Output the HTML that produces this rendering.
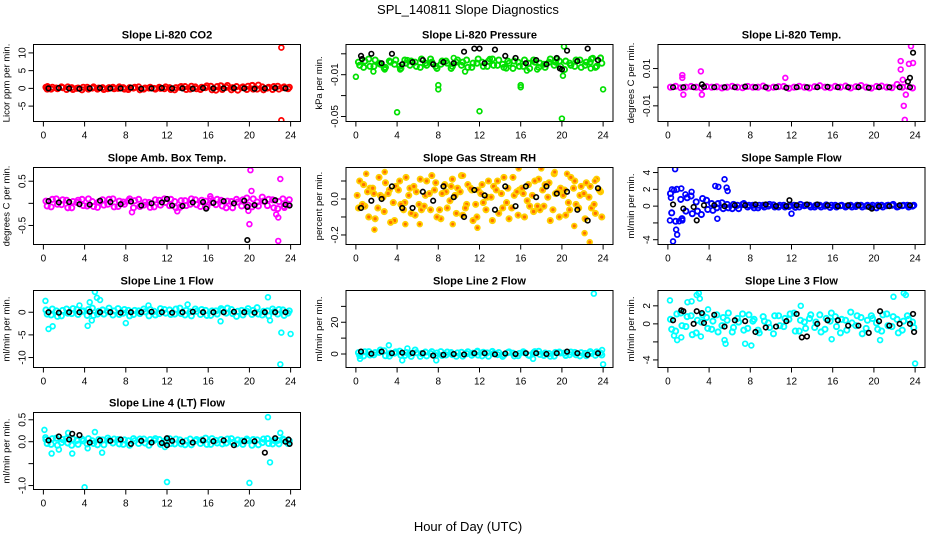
<!DOCTYPE html>
<html><head><meta charset="utf-8"><style>
body{margin:0;background:#fff;}
svg{display:block;font-family:"Liberation Sans",Arial,sans-serif;}
</style></head><body>
<svg id="chart" width="936" height="540" viewBox="0 0 936 540">
<rect width="936" height="540" fill="#fff"/>
<text x="468" y="14" text-anchor="middle" font-size="13">SPL_140811  Slope Diagnostics</text>
<text x="468" y="531" text-anchor="middle" font-size="13">Hour of Day (UTC)</text>
</svg>
<script>
const hoursC=[0.25,0.75,1.25,1.75,2.25,2.75,3.25,3.75,4.25,4.75,5.25,5.75,6.25,6.75,7.25,7.75,8.25,8.75,9.25,9.75,10.25,10.75,11.25,11.75,12.25,12.75,13.25,13.75,14.25,14.75,15.25,15.75,16.25,16.75,17.25,17.75,18.25,18.75,19.25,19.75,20.25,20.75,21.25,21.75,22.25,22.75,23.25,23.75];
const hoursB=[0.5,1.5,2.5,3.5,4.5,5.5,6.5,7.5,8.5,9.5,10.5,11.5,12.5,13.5,14.5,15.5,16.5,17.5,18.5,19.5,20.5,21.5,22.5,23.5];
const xTicks=[0,4,8,12,16,20,24];
const xTickLabels=["0","4","8","12","16","20","24"];

const co2C=[0.3,-0.2,0.1,0.4,-0.3,0.2,0,-0.4,0.3,0.1,-0.2,0.2,-0.1,0.3,0,0.2,-0.3,0.1,0.4,-0.2,0.1,0,0.3,-0.1,0.2,-0.4,0.3,0.5,-0.2,0.4,-0.3,0.2,0.6,-0.5,0.7,0.3,-0.4,0.5,0.2,-0.3,0.8,-0.2,0.4,0.1,-0.3,0.6,0.2,-0.1];
const co2C2=[-0.2,0.3,-0.1,0.2,0.4,-0.3,0.1,0.3,-0.2,0.4,0.1,-0.3,0.2,-0.1,0.4,-0.2,0.2,0.3,-0.4,0.1,0.3,-0.2,0,0.4,-0.3,0.2,0.5,-0.3,0.6,-0.1,0.3,0.7,-0.4,0.5,-0.3,0.8,0.2,-0.5,0.4,0.6,-0.2,0.9,-0.4,0.3,0.5,-0.2,0.4,0.3];
const co2B=[0,0.1,0,-0.1,0,0.1,0,0,0.2,-0.1,0,0.1,0,0,-0.1,0.1,0,0,0.1,0,-0.1,0,0.1,0];
const co2OX=[23.1,23.1,0.4,17.2,20.3];
const co2OY=[11.5,-9,0.6,0.8,0.9];
const co2Ticks=[-5,0,5,10];
const co2Labels=["-5","0","5","10"];

const presC=[0.002,-0.003,0.005,-0.002,0.001,-0.004,0.003,0,-0.002,0.004,-0.001,0.002,-0.003,0.001,0.005,-0.002,0,0.003,-0.004,0.002,-0.001,0.004,-0.003,0.001,0.002,-0.002,0.005,-0.001,0,0.003,-0.004,0.002,-0.002,0.001,0.004,-0.003,0,0.002,-0.001,0.003,-0.005,0.001,-0.002,0.004,-0.001,0.002,-0.003,0.006];
const presC2=[-0.001,0.003,-0.002,0.004,0,-0.003,0.002,0.004,-0.004,0.001,0.003,-0.002,0.005,-0.001,0.002,-0.004,0.003,0.001,-0.002,0.004,0.002,-0.003,0.001,0.005,-0.002,0.003,-0.001,0.004,-0.003,0.001,0.003,-0.002,0.004,-0.004,0.002,0.001,-0.003,0.005,0.002,-0.002,0.003,-0.001,0.004,-0.003,0.002,0.005,-0.002,0.001];
const presB=[0.008,0.01,0.001,0.01,0,0.002,0.004,0,0.002,0.001,0.012,0.015,0.001,0.014,0.008,0.006,0.001,0.004,0,0.006,0.013,0.003,0.015,0.004];
const presOX=[0,1.7,2.8,4,4.3,8,8,10.6,12,14.6,16,16,16.6,17.6,20,20.1,20.2,22.8,23,24,5,9.5,13,19.5];
const presOY=[-0.012,-0.007,-0.005,-0.046,-0.005,-0.02,-0.024,-0.007,-0.045,-0.004,-0.022,-0.02,-0.006,-0.005,-0.052,-0.011,0.017,-0.004,0.006,-0.024,0.004,0.006,0.005,0.005];
const presBOX=[12,0.6,19.8,20];
const presBOY=[0.015,0.005,-0.004,-0.005];
const presTicks=[-0.05,-0.03,-0.01,0.01];
const presLabels=["-0.05","","-0.01",""];

const tempC=[0,0.0005,-0.0003,0,0.0004,0,-0.0005,0.0003,0,0.0002,-0.0004,0,0.0005,0,-0.0003,0.0004,0,0,0.0006,-0.0005,0,0.0003,0.0004,-0.0006,0,0.0005,0,-0.0004,0.0003,0.0008,0,-0.0003,0.0005,0,0.0006,-0.0004,0.0003,0.0009,0,-0.0005,0.0004,0.0006,0,-0.0003,0.0015,0,0.0005,-0.0004];
const tempB=[0,0,0,0.0002,0,0,0,0.0003,0,0,0,-0.0003,0,0,0,0.0002,0,0,0,-0.0003,0,0,0,0];
const tempOX=[1.4,1.4,1.5,3.2,3.3,11.4,22.6,22.6,22.8,22.9,23,23.1,23.4,23.6,23.8];
const tempOY=[0.0065,0.005,-0.004,0.0085,-0.004,0.005,0.014,0.0095,0.004,-0.01,-0.0175,-0.004,0.0125,0.022,0.013];
const tempBOX=[23.8,23.5,23.3,3.3];
const tempBOY=[0.0185,0.005,0.003,0.0015];
const tempTicks=[-0.01,0,0.01];
const tempLabels=["-0.01","","0.01"];

const ambC=[0.05,-0.08,0.1,-0.03,0.07,-0.1,0.02,0.09,-0.06,0.04,-0.09,0.08,-0.02,0.1,-0.07,0.03,0.06,-0.1,0.09,-0.04,0.02,-0.08,0.07,0.1,-0.05,0.04,-0.09,0.06,-0.02,0.08,-0.07,0.05,0.1,-0.03,0.07,-0.1,0.04,0.09,-0.06,0.12,-0.08,0.03,0.14,-0.05,0.08,-0.12,0.1,-0.02];
const ambC2=[-0.06,0.09,-0.02,0.08,-0.1,0.04,0.07,-0.05,0.1,-0.07,0.03,-0.04,0.09,-0.08,0.05,-0.02,0.1,0.06,-0.07,0.03,-0.09,0.08,-0.04,0.02,0.09,-0.1,0.06,-0.05,0.1,-0.03,0.07,-0.08,0.02,0.09,-0.06,0.05,-0.1,0.03,0.08,-0.04,0.1,-0.06,0.05,0.09,-0.1,0.04,-0.07,0.08];
const ambB=[0.05,0.02,0.03,-0.02,-0.03,0.06,0.03,-0.02,0.04,-0.05,0,0.02,-0.05,-0.06,0.02,0.03,0.01,0.05,0,0.06,-0.04,0.04,0.07,-0.03];
const ambOX=[20.1,23,20,20.2,22.8,22.8,8.6,13,19.9,16.2,22.6,23.4];
const ambOY=[0.75,0.55,-0.47,0.28,-0.32,-0.85,-0.2,-0.18,-0.17,0.16,-0.25,-0.1];
const ambBOX=[19.8,15.8,19.8,12,23.9];
const ambBOY=[-0.83,-0.12,-0.08,0.1,-0.05];
const ambTicks=[-0.5,0,0.5];
const ambLabels=["-0.5","","0.5"];

const rhC=[-0.05,0.08,-0.1,0.03,0.12,-0.07,0.05,-0.12,0.1,-0.02,0.06,-0.09,0.11,0.02,-0.06,0.09,-0.11,0.04,0.07,-0.08,0.13,-0.03,0.05,-0.1,0.08,0.01,-0.12,0.1,-0.05,0.06,0.12,-0.09,0.03,0.08,-0.07,0.11,-0.04,0.09,0.14,-0.1,0.05,-0.06,0.1,0.02,-0.11,0.07,-0.08,0.04];
const rhC2=[0.1,-0.04,0.06,-0.11,0.02,0.09,-0.13,0.07,-0.03,0.12,-0.08,0.04,-0.06,0.1,0.13,-0.1,0.03,-0.05,0.11,0.06,-0.09,0.08,-0.12,0.05,-0.02,0.1,0.07,-0.08,0.12,-0.11,0.02,0.05,-0.1,-0.04,0.1,-0.06,0.08,-0.12,0.03,0.06,-0.09,0.12,-0.03,0.07,0.09,-0.05,0.11,-0.1];
const rhC3=[0.02,-0.03,0.04,0.06,-0.05,0.01,0.03,-0.02,0.05,-0.06,0.02,0.07,-0.03,-0.04,0.03,0.05,-0.06,0.08,-0.01,0.02,0.04,-0.05,0.06,-0.03,0.03,-0.06,0.01,0.05,0.03,-0.02,-0.05,0.04,0.06,-0.01,0.02,-0.04,0.05,0.01,-0.06,0.04,0.02,-0.02,0.06,-0.05,0.03,0.01,-0.03,0.05];
const rhB=[-0.05,-0.01,0,0.07,-0.05,-0.05,0.04,-0.01,0.07,0.01,-0.1,0.05,0.02,-0.06,0.07,-0.04,0.07,0.01,0.07,0.03,0.04,-0.06,-0.12,0.06];
const rhOX=[1,2.8,1.8,9.4,10.4,15.8,18,19.3,20.5,22.2,22.7,11.8,6.2,23.2,21.2,4.8];
const rhOY=[0.14,0.15,-0.17,-0.14,0.13,0.17,0.17,0.15,0.14,-0.19,-0.24,-0.16,-0.14,0.1,-0.15,-0.14];
const rhTicks=[-0.2,-0.1,0,0.1];
const rhLabels=["-0.2","","0.0",""];

const sfC=[1.5,-1.8,0.8,-0.6,1.2,0.5,-1,0.7,0.3,-0.2,0.4,0.2,-0.3,0.1,0.2,-0.1,0.1,-0.2,0.1,0,0.15,-0.1,0.1,-0.05,0.1,-0.1,0.05,0.1,-0.1,0.1,0,-0.15,0.1,0.05,-0.1,0.1,-0.05,0.1,0,-0.1,-0.2,0.1,0.05,0.1,-0.1,0.05,0.1,0];
const sfC2=[-0.8,2,-1.5,1,-0.9,-0.6,0.9,-0.4,-0.5,0.3,-0.3,-0.2,0.2,-0.3,0.3,0.1,-0.2,0.1,-0.1,0.2,-0.1,0.1,-0.1,0.1,-0.15,0.2,0.1,-0.1,0.1,-0.1,0.15,0.1,-0.1,0.1,0,-0.1,0.1,-0.1,0.1,0.1,0.1,-0.1,0.1,0.2,-0.05,0.1,-0.1,0.1];
const sfB=[0.2,-0.3,-0.1,0.1,0.1,0,0.1,0.1,0.2,0.2,0,0,0.1,0.2,0.2,0.1,0,0.1,0.1,-0.1,0,0,0.1,0.1];
const sfOX=[0.7,0.5,0.2,0.4,0.9,0.8,1.3,2.3,4.6,4.9,5.5,5.7,5.8,12,0.3,1.4,1.1,0.6,4.8,1.7];
const sfOY=[4.4,-4.2,-1.7,2,-3.4,-2.8,2.1,1.7,2.4,2.3,3.2,2.2,1.8,-0.9,1,-1.7,-1.8,1.9,-1.5,1.4];
const sfBOX=[2.8,11.8,19.8];
const sfBOY=[-1.7,0.7,-0.3];
const sfTicks=[-4,-2,0,2,4];
const sfLabels=["-4","","0","2","4"];

const l1C=[0.5,-0.6,0.3,-0.8,0.7,-0.3,0.6,0.2,-0.7,0.9,-0.4,0.5,0.1,-0.6,0.8,-0.2,0.4,-0.5,0.3,0.7,-0.8,0.2,-0.3,0.6,0.5,-0.4,0.9,-0.6,0.1,0.7,-0.5,0.4,-0.7,0.3,0.8,-0.2,0.6,-0.9,0.4,0.2,-0.5,1,-0.6,0.3,0.7,-0.4,0.5,-0.2];
const l1C2=[-0.4,0.7,-0.9,0.4,-0.2,0.8,-0.5,0.3,0.6,-0.7,0.2,-0.4,0.9,0.3,-0.5,0.6,-0.8,0.4,-0.3,0.1,0.6,-0.6,0.8,-0.2,-0.5,0.7,-0.3,0.4,-0.8,0.2,0.6,-0.7,0.3,-0.4,0.5,0.9,-0.3,0.2,-0.6,0.8,0.4,-0.4,0.2,-0.8,0.1,0.6,-0.7,0.3];
const l1B=[0,-0.1,0,0,0.1,0,0,-0.1,0,0,0.1,0,-0.1,0,0.1,0,0,0,0.1,0,-0.1,0,0,0];
const l1OX=[0.2,0.5,0.9,4.3,4.7,5,5.2,4.5,5.5,8,21.8,22,23,23.1,24,3.5,10.2,14,17.2];
const l1OY=[2.5,-3.7,-3.1,-3,-1.8,4.5,3.2,2.2,2.7,-2.4,3.3,-1.8,-11.5,-4.5,-4.8,1.5,1.5,1.7,-2];
const l1Ticks=[-10,-5,0];
const l1Labels=["-10","-5","0"];

const l2C=[0.8,-1.2,1.5,-0.5,1,2,-1.3,0.6,1.8,-0.9,0.4,2.5,-1.5,1.2,0.3,-1,1.5,-0.6,0.9,-1.4,1.1,0.2,-0.8,1.3,-1.2,0.7,1.6,-0.4,-1.5,0.9,0.5,-1.1,1.4,-0.7,0.8,1.7,-0.9,0.3,-1.3,1.2,0.6,-0.5,1,-1.2,0.4,1.5,-0.8,0.6];
const l2C2=[-1,1.4,-0.6,0.9,2.5,-1.1,0.5,1.3,-0.8,1,-1.5,0.8,0.3,-1.2,1.5,0.6,-0.9,1.2,-0.4,0.7,-1.3,1.4,0.5,-0.7,1.1,-1.4,0.3,0.9,-0.6,1.3,-1.2,0.4,0.8,-1,1.5,-0.3,0.6,-1.4,1,0.7,-0.9,1.2,-0.5,0.8,-1.1,0.4,1.3,-0.6];
const l2B=[1.5,0.2,1.5,0.5,0.8,0.6,0.5,-1,-0.5,0,-0.3,0.5,0.5,-0.2,0.3,0,0.5,0.5,0,0.5,1.5,0.5,-0.5,0.5];
const l2OX=[23.1,24,0.4,3.2,4.5,7.8,5,17.2,11.8,23.9];
const l2OY=[38,-6.5,-3,5.5,-4,-4,3.5,-3,2,2.5];
const l2Ticks=[0,10,20,30];
const l2Labels=["0","","20",""];

const l3C=[0.5,-0.8,1.2,-0.3,0.9,-1,0.2,0.7,-0.6,1,-0.2,0.4,-0.9,0.6,1.1,-0.5,0.3,-0.7,0.8,0.1,-1.1,0.9,-0.3,0.5,1.2,-0.8,0.2,0.6,-0.4,1,-0.6,0.3,0.8,-1,0.4,1.3,-0.2,0.7,-0.5,0.9,0.1,-0.8,1.1,-0.3,0.5,-0.7,0.9,0.2];
const l3C2=[-0.6,1.1,-0.2,0.8,-1.2,0.4,1,-0.5,0.3,-0.9,0.7,1.2,-0.4,0.2,-0.7,1,0.5,-1,0.3,-0.4,0.9,-0.2,0.6,1.1,-0.8,0.4,-0.5,1,0.2,-0.9,0.6,1.2,-0.3,0.5,-0.7,0.1,0.9,-1.1,0.4,0.6,-0.6,1,-0.2,0.8,-1,0.3,0.5,-0.4];
const l3B=[0.4,1.4,0,0.1,1,-0.3,0.4,0.3,-0.9,-0.4,-0.3,0.3,1.1,-1.4,0,0.4,0.4,-0.2,-0.2,-1,0.3,-0.2,0,0];
const l3OX=[0.2,0.6,0.9,1.9,2.3,2.8,3,3.1,3.9,5.6,5.5,7.5,8.1,12.9,15.9,20.6,21.9,22.9,23.1,24,1.3,3.2];
const l3OY=[2.6,-1.3,-1.8,2.4,2.5,3.2,3.4,2.8,1.6,-2.2,-1.8,-2.2,-2.4,2,-1.7,-1.8,3,3.4,3.2,-4.4,-1.5,-1.4];
const l3BOX=[1.3,2.8,3.3,13,20.6,23.8,23.9];
const l3BOY=[1.5,1.4,1.2,-1.5,1.4,1.1,-0.9];
const l3Ticks=[-4,-2,0,2];
const l3Labels=["-4","","0","2"];

const l4C=[0.05,-0.06,0.08,-0.02,0.07,-0.08,0.03,0.06,-0.05,0.02,-0.07,0.04,0.08,-0.03,0.05,-0.06,0.02,0.07,-0.04,0.06,-0.08,0.03,0.05,-0.02,0.07,-0.05,0.04,-0.07,0.06,0.02,-0.04,0.08,-0.06,0.03,0.05,-0.03,0.07,-0.05,0.02,0.06,-0.08,0.04,-0.02,0.07,-0.05,0.03,0.06,-0.04];
const l4C2=[-0.04,0.07,-0.08,0.05,-0.03,0.06,-0.06,0.02,0.07,-0.04,0.05,-0.07,0.03,0.06,-0.05,0.04,-0.08,0.02,0.06,-0.03,0.05,0.07,-0.06,0.03,-0.04,0.06,-0.05,0.02,-0.07,0.05,0.04,-0.06,0.07,-0.03,-0.05,0.06,-0.02,0.04,-0.06,0.03,0.05,-0.07,0.06,-0.04,0.03,-0.05,0.04,0.02];
const l4B=[0.03,0.12,0.05,0.15,-0.02,0.03,0.02,0.05,-0.05,0.02,-0.02,-0.03,0.02,0,-0.02,0.03,0.01,0.03,-0.08,0.01,0.01,-0.25,0.08,0];
const l4OX=[0.1,0.8,1.5,2.8,5,5.7,4,12,20,21.8,22,23,0.2,4.3,11.8,2.4];
const l4OY=[0.27,-0.27,-0.18,-0.27,0.22,-0.25,-1.04,-0.92,-0.94,0.56,-0.47,0.2,0.1,-0.15,-0.12,0.2];
const l4BOX=[2.8,23.9,23.8,12,12];
const l4BOY=[0.18,-0.05,0.05,-0.08,0.08];
const l4Ticks=[-1,-0.5,0,0.5];
const l4Labels=["-1.0","","0.0","0.5"];

const NS='http://www.w3.org/2000/svg';
const svg=document.getElementById('chart');
function mk(tag,attrs,parent){const e=document.createElementNS(NS,tag);for(const k in attrs)e.setAttribute(k,attrs[k]);(parent||svg).appendChild(e);return e;}

const panels=[
 {key:'co2',title:'Slope Li-820 CO2',ylab:'Licor ppm per min.',col:0,row:0,ymin:-9.34,ymax:12.37,color:'#ff0000',C:co2C,C2:co2C2,C3:null,B:co2B,OX:co2OX,OY:co2OY,BOX:[],BOY:[],ticks:co2Ticks,labels:co2Labels},
 {key:'pressure',title:'Slope Li-820 Pressure',ylab:'kPa per min.',col:1,row:0,ymin:-0.0548,ymax:0.0189,color:'#00e000',C:presC,C2:presC2,C3:null,B:presB,OX:presOX,OY:presOY,BOX:presBOX,BOY:presBOY,ticks:presTicks,labels:presLabels},
 {key:'temp',title:'Slope Li-820 Temp.',ylab:'degrees C per min.',col:2,row:0,ymin:-0.0184,ymax:0.0229,color:'#ff00ff',C:tempC,C2:null,C3:null,B:tempB,OX:tempOX,OY:tempOY,BOX:tempBOX,BOY:tempBOY,ticks:tempTicks,labels:tempLabels},
 {key:'amb-box-temp',title:'Slope Amb. Box Temp.',ylab:'degrees C per min.',col:0,row:1,ymin:-0.93,ymax:0.81,color:'#ff00ff',C:ambC,C2:ambC2,C3:null,B:ambB,OX:ambOX,OY:ambOY,BOX:ambBOX,BOY:ambBOY,ticks:ambTicks,labels:ambLabels},
 {key:'gas-stream-rh',title:'Slope Gas Stream RH',ylab:'percent per min.',col:1,row:1,ymin:-0.253,ymax:0.175,color:'#ffd000',fill:'#ff7000',C:rhC,C2:rhC2,C3:rhC3,B:rhB,OX:rhOX,OY:rhOY,BOX:[],BOY:[],ticks:rhTicks,labels:rhLabels},
 {key:'sample-flow',title:'Slope Sample Flow',ylab:'ml/min per min.',col:2,row:1,ymin:-4.57,ymax:4.6,color:'#0000ff',C:sfC,C2:sfC2,C3:null,B:sfB,OX:sfOX,OY:sfOY,BOX:sfBOX,BOY:sfBOY,ticks:sfTicks,labels:sfLabels},
 {key:'line1-flow',title:'Slope Line 1 Flow',ylab:'ml/min per min.',col:0,row:2,ymin:-12.2,ymax:4.8,color:'#00ffff',C:l1C,C2:l1C2,C3:null,B:l1B,OX:l1OX,OY:l1OY,BOX:[],BOY:[],ticks:l1Ticks,labels:l1Labels},
 {key:'line2-flow',title:'Slope Line 2 Flow',ylab:'ml/min per min.',col:1,row:2,ymin:-8.5,ymax:40,color:'#00ffff',C:l2C,C2:l2C2,C3:null,B:l2B,OX:l2OX,OY:l2OY,BOX:[],BOY:[],ticks:l2Ticks,labels:l2Labels},
 {key:'line3-flow',title:'Slope Line 3 Flow',ylab:'ml/min per min.',col:2,row:2,ymin:-4.84,ymax:3.7,color:'#00ffff',C:l3C,C2:l3C2,C3:null,B:l3B,OX:l3OX,OY:l3OY,BOX:l3BOX,BOY:l3BOY,ticks:l3Ticks,labels:l3Labels},
 {key:'line4-flow',title:'Slope Line 4 (LT) Flow',ylab:'ml/min per min.',col:0,row:3,ymin:-1.09,ymax:0.666,color:'#00ffff',C:l4C,C2:l4C2,C3:null,B:l4B,OX:l4OX,OY:l4OY,BOX:l4BOX,BOY:l4BOY,ticks:l4Ticks,labels:l4Labels}
];
const colLeft=[33.5,346,658], boxW=267;
const rowTop=[44.5,167.5,290.5,412.5], boxH=77;

panels.forEach(p=>{
  const L=colLeft[p.col],T=rowTop[p.row],R=L+boxW,Bt=T+boxH;
  const g=mk('g',{});
  
  
  const xs=v=>L+(v+0.96)/25.92*boxW;
  const ys=v=>Bt-(v-p.ymin)/(p.ymax-p.ymin)*boxH;
  const t=mk('text',{x:L+boxW/2,y:T-6,'text-anchor':'middle','font-size':'11','font-weight':'bold'},g);
  t.textContent=p.title;
  
  
  const yl=mk('text',{transform:`translate(${L-24},${T+boxH/2}) rotate(-90)`,'text-anchor':'middle','font-size':'9.5'},g);
  yl.textContent=p.ylab;
  
  
  const xa=mk('g',{},g);
  
  
  mk('line',{x1:xs(0),x2:xs(24),y1:Bt,y2:Bt,stroke:'#000'},xa);
  xTicks.forEach((v,i)=>{
    mk('line',{x1:xs(v),x2:xs(v),y1:Bt,y2:Bt+5,stroke:'#000'},xa);
    const tl=mk('text',{x:xs(v),y:Bt+17,'text-anchor':'middle','font-size':'10'},xa);
    tl.textContent=xTickLabels[i];
    
    
  });
  const ya=mk('g',{},g);
  
  
  mk('line',{x1:L,x2:L,y1:ys(p.ticks[0]),y2:ys(p.ticks[p.ticks.length-1]),stroke:'#000'},ya);
  p.ticks.forEach((v,i)=>{
    mk('line',{x1:L-5,x2:L,y1:ys(v),y2:ys(v),stroke:'#000'},ya);
    if(p.labels[i]){
      const tl=mk('text',{transform:`translate(${L-8},${ys(v)}) rotate(-90)`,'text-anchor':'middle','font-size':'10'},ya);
      tl.textContent=p.labels[i];
      
      
    }
  });
  const clipId='clip-'+p.key;
  const cp=mk('clipPath',{id:clipId},g);
  mk('rect',{x:L,y:T,width:boxW,height:boxH},cp);
  const pts=mk('g',{'clip-path':`url(#${clipId})`},g);
  
  
  const dot=(x,y,c,f,r,sw)=>{
    const e=mk('circle',{cx:xs(x),cy:ys(y),r:r,fill:f||'none',stroke:c,'stroke-width':sw},pts);
    
    
  };
  p.C.forEach((v,i)=>dot(hoursC[i],v,p.color,p.fill,2.6,1.9));
  if(p.C2)p.C2.forEach((v,i)=>dot(hoursC[i]+0.12,v,p.color,p.fill,2.6,1.9));
  if(p.C3)p.C3.forEach((v,i)=>dot(hoursC[i]-0.12,v,p.color,p.fill,2.6,1.9));
  p.OX.forEach((x,i)=>dot(x,p.OY[i],p.color,p.fill,2.4,1.7));
  p.B.forEach((v,i)=>dot(hoursB[i],v,'#000',null,2.3,1.6));
  p.BOX.forEach((x,i)=>dot(x,p.BOY[i],'#000',null,2.3,1.6));
  const box=mk('rect',{x:L,y:T,width:boxW,height:boxH,fill:'none',stroke:'#000','stroke-width':1},g);
  
  
});
</script>
</body></html>
